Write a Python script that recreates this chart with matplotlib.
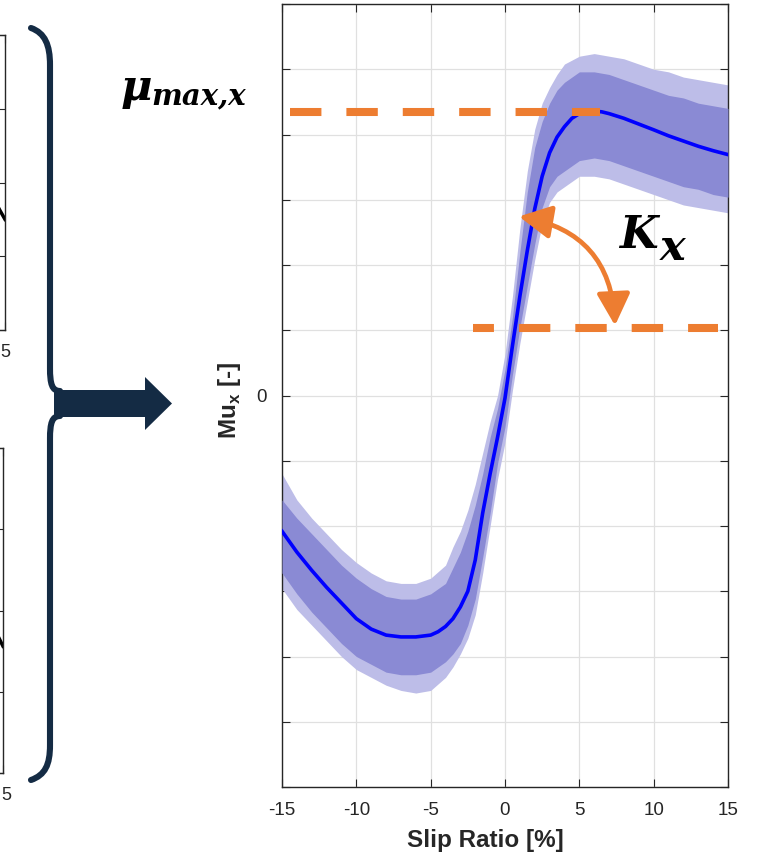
import matplotlib
matplotlib.use('Agg')
import matplotlib.pyplot as plt
import matplotlib.transforms as mtransforms
from matplotlib.patches import FancyArrowPatch, PathPatch, Polygon, ArrowStyle
from matplotlib.path import Path

plt.rcParams['font.family'] = ['Liberation Sans', 'DejaVu Sans']
plt.rcParams['mathtext.fontset'] = 'custom'
plt.rcParams['mathtext.rm'] = 'Liberation Sans'
plt.rcParams['mathtext.bf'] = 'Liberation Sans:bold'

# fitted tyre curve
slip_fit = [-15, -14, -13, -12, -11, -10, -9, -8, -7, -6, -5, -4.5, -4, -3.5, -3, -2.5,
            -2, -1.5, -1, -0.5, 0, 0.5, 1, 1.5, 2, 2.5, 3, 3.5, 4, 4.5, 5, 5.5, 6,
            6.5, 7, 8, 9, 10, 11, 12, 13, 14, 15]
mu_fit = [-0.52, -0.60, -0.67, -0.735, -0.795, -0.855, -0.895, -0.918, -0.925, -0.925,
          -0.918, -0.905, -0.885, -0.855, -0.81, -0.75, -0.63, -0.45, -0.30, -0.16, -0.01,
          0.19, 0.38, 0.555, 0.715, 0.84, 0.93, 0.99, 1.03, 1.062, 1.08, 1.087, 1.089,
          1.087, 1.08, 1.062, 1.04, 1.018, 0.995, 0.975, 0.955, 0.938, 0.923]

# measured points: dense core and sparse fringe of the cloud
slip_band = [-15, -14, -13, -12, -11, -10, -9, -8, -7, -6, -5, -4, -3.5, -3, -2.5, -2,
             -1.5, -1, -0.5, 0, 0.5, 1, 1.5, 2, 2.5, 3, 3.5, 4, 5, 6, 7, 8, 9, 10, 11,
             12, 13, 14, 15]
core_lo = [-0.68, -0.76, -0.83, -0.89, -0.95, -1.00, -1.03, -1.06, -1.07, -1.07, -1.06,
           -1.02, -0.99, -0.95, -0.88, -0.78, -0.62, -0.45, -0.26, -0.12, 0.08, 0.26,
           0.42, 0.58, 0.72, 0.80, 0.84, 0.86, 0.90, 0.91, 0.90, 0.88, 0.86, 0.84, 0.82,
           0.80, 0.79, 0.77, 0.76]
core_hi = [-0.40, -0.47, -0.53, -0.59, -0.65, -0.70, -0.74, -0.77, -0.78, -0.78, -0.76,
           -0.72, -0.66, -0.60, -0.52, -0.42, -0.30, -0.16, -0.05, 0.10, 0.30, 0.55,
           0.78, 0.95, 1.05, 1.12, 1.17, 1.20, 1.24, 1.24, 1.23, 1.21, 1.19, 1.17, 1.15,
           1.14, 1.12, 1.11, 1.10]
fringe_lo = [-0.74, -0.82, -0.88, -0.94, -1.00, -1.05, -1.08, -1.11, -1.13, -1.14, -1.13,
             -1.08, -1.04, -0.99, -0.93, -0.84, -0.68, -0.50, -0.32, -0.18, 0.02, 0.20,
             0.36, 0.52, 0.66, 0.74, 0.78, 0.80, 0.84, 0.84, 0.83, 0.81, 0.79, 0.77, 0.75,
             0.73, 0.72, 0.71, 0.70]
fringe_hi = [-0.30, -0.40, -0.47, -0.53, -0.59, -0.64, -0.68, -0.71, -0.72, -0.72, -0.70,
             -0.65, -0.58, -0.52, -0.44, -0.34, -0.22, -0.10, 0.00, 0.16, 0.38, 0.64,
             0.86, 1.02, 1.12, 1.18, 1.23, 1.27, 1.30, 1.31, 1.30, 1.29, 1.27, 1.25, 1.24,
             1.22, 1.21, 1.20, 1.19]

x_ticks = [-15, -10, -5, 0, 5, 10, 15]
x_tick_labels = ['-15', '-10', '-5', '0', '5', '10', '15']
y_ticks = [-1.5, -1.25, -1.0, -0.75, -0.5, -0.25, 0, 0.25, 0.5, 0.75, 1.0, 1.25, 1.5]
y_tick_labels = ['', '', '', '', '', '', '0', '', '', '', '', '', '']

# annotation levels
mu_max = 1.088
mu_max_span = [-14.46, 6.39]
kx_level = 0.257
kx_span = [-2.15, 14.3]
kx_arrow_a = (0.94, 0.686)
kx_arrow_b = (7.4, 0.268)

# cut-off neighbour panels on the left (only the right edge is in view)
side_ticks = [-15, -10, -5, 0, 5, 10, 15]
side_tick_labels = ['', '', '', '', '', '', '5']
side_yticks = [-1, -0.5, 0, 0.5, 1]
side_top_x = [13.0, 14.5, 15.0]
side_top_y = [0.0, -0.19, -0.25]
side_bot_x = [13.0, 14.6, 15.0]
side_bot_y = [0.05, -0.17, -0.22]

W, H = 757, 858
ORANGE = '#ED7D31'
NAVY = '#142b44'
DARK = '#262626'

fig = plt.figure(figsize=(W / 100, H / 100), dpi=100)


def px_rect(left, top, right, bottom):
    return [left / W, 1 - bottom / H, (right - left) / W, (bottom - top) / H]


# --- left cut-off panels
for (top, bottom, right, lx, ly, shift) in [(35, 330, 5, side_top_x, side_top_y, 0),
                                            (448, 773, 3, side_bot_x, side_bot_y, 3)]:
    sa = fig.add_axes(px_rect(right - 300, top, right, bottom))
    sa.plot(lx, ly, color='black', lw=2.5)
    sa.set_xlim(-15, 15)
    sa.set_ylim(-1, 1)
    sa.set_xticks(side_ticks)
    sa.set_xticklabels(side_tick_labels)
    sa.set_yticks(side_yticks)
    sa.set_yticklabels([])
    sa.tick_params(direction='in', top=True, right=True, length=6, width=0.8,
                   labelsize=13, colors=DARK, pad=10)
    for lab in sa.get_xticklabels():
        lab.set_transform(lab.get_transform() +
                          mtransforms.ScaledTranslation(shift / 100, 0, fig.dpi_scale_trans))
    for sp in sa.spines.values():
        sp.set_color(DARK)
        sp.set_linewidth(1.0)

# --- main panel
ax = fig.add_axes(px_rect(282, 4, 728, 787))

ax.fill_between(slip_band, fringe_lo, fringe_hi, color='#bdbde8', lw=0, zorder=2)
ax.fill_between(slip_band, core_lo, core_hi, color='#8a8ad4', lw=0, zorder=3)
ax.plot(slip_fit, mu_fit, color='#0000ff', lw=2.6, zorder=4)

ax.plot(mu_max_span, [mu_max, mu_max], color=ORANGE, lw=5.8,
        linestyle=(0, (3.9, 3.1)), zorder=5)
ax.plot(kx_span, [kx_level, kx_level], color=ORANGE, lw=5.8,
        linestyle=(1.3, (3.9, 3.1)), zorder=5)

arc = FancyArrowPatch(kx_arrow_a, kx_arrow_b,
                      arrowstyle=ArrowStyle('<|-|>', head_length=1.0, head_width=0.52),
                      connectionstyle='arc3,rad=-0.4', mutation_scale=19.5,
                      color=ORANGE, lw=3.4, shrinkA=0, shrinkB=0, zorder=6)
ax.add_patch(arc)

ax.set_xlim(-15, 15)
ax.set_ylim(-1.5, 1.5)
ax.set_xticks(x_ticks)
ax.set_xticklabels(x_tick_labels)
ax.set_yticks(y_ticks)
ax.set_yticklabels(y_tick_labels)
ax.grid(True, color='#e0e0e0', lw=0.9)
ax.set_axisbelow(True)
ax.tick_params(direction='in', top=True, right=True, length=5.8, width=0.8,
               labelsize=13.5, colors=DARK, pad=11)
for sp in ax.spines.values():
    sp.set_color(DARK)
    sp.set_linewidth(1.0)

ax.set_xlabel('Slip Ratio [%]', fontsize=17.5, fontweight='bold', color=DARK)
ax.xaxis.set_label_coords(0.457, -0.054)
ax.set_ylabel(r'Mu$_{\mathbf{x}}$ [-]', fontsize=17.5, fontweight='bold', color=DARK)
ax.yaxis.set_label_coords(-0.087, 0.493)

# --- overlay in pixel coordinates: brace, arrow, symbols
ov = fig.add_axes([0, 0, 1, 1])
ov.set_xlim(0, W)
ov.set_ylim(H, 0)
ov.axis('off')

brace_top = Path([(31, 28), (45, 33), (50, 45), (50, 65), (50, 368),
                  (50, 384), (52, 391), (60, 391)],
                 [Path.MOVETO, Path.CURVE4, Path.CURVE4, Path.CURVE4, Path.LINETO,
                  Path.CURVE4, Path.CURVE4, Path.CURVE4])
brace_bot = Path([(60, 416), (52, 416), (50, 423), (50, 439), (50, 745),
                  (50, 765), (45, 775), (31, 780)],
                 [Path.MOVETO, Path.CURVE4, Path.CURVE4, Path.CURVE4, Path.LINETO,
                  Path.CURVE4, Path.CURVE4, Path.CURVE4])
for p in (brace_top, brace_bot):
    ov.add_patch(PathPatch(p, facecolor='none', edgecolor=NAVY, lw=4.4,
                           capstyle='round'))

ov.add_patch(Polygon([(54, 390), (145, 390), (145, 377), (172, 403.5),
                      (145, 430), (145, 417), (54, 417)],
                     closed=True, facecolor=NAVY, edgecolor='none'))

serif = 'DejaVu Serif'
ov.text(121, 100, '\u03bc', fontsize=31, fontfamily=serif, fontweight='bold',
        fontstyle='italic', va='baseline', ha='left')
ov.text(151, 104, 'max,x', fontsize=21, fontfamily=serif, fontweight='bold',
        fontstyle='italic', va='baseline', ha='left')
ov.text(619, 248, 'K', fontsize=32, fontfamily=serif, fontweight='bold',
        fontstyle='italic', va='baseline', ha='left')
ov.text(660, 260, 'x', fontsize=31, fontfamily=serif, fontweight='bold',
        fontstyle='italic', va='baseline', ha='left')

fig.savefig('out.png', dpi=100)
